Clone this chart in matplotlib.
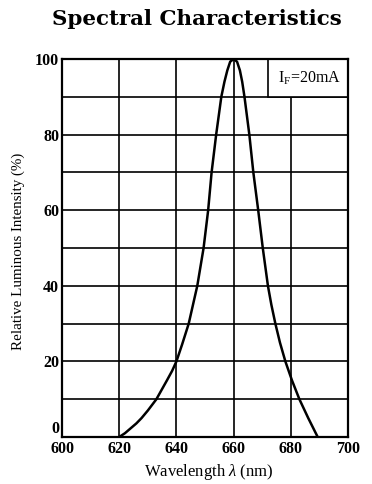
import matplotlib
matplotlib.use("Agg")
from matplotlib import pyplot as plt
from matplotlib.patches import Rectangle

# values
wavelength = [620, 622, 624, 626, 627.8, 630, 633, 636.7, 638.5, 640, 642, 644.3,
              645.8, 647.3, 649.5, 651.1, 652.3, 653.9, 655.7, 656.8, 657.8, 658.8,
              660, 661.2, 662.2, 663, 663.8, 665.5, 666.9, 668.6, 670.2, 672,
              673.2, 674.6, 676.2, 678.1, 680.4, 683, 686.1, 689.4]
intensity = [0, 1, 2.3, 3.6, 5, 7, 10, 15, 17.5, 20, 24.5, 30,
             35, 40, 50, 60, 70, 80, 90, 94, 97, 99.3,
             100, 99.3, 97, 94, 90, 80, 70, 60, 50, 40,
             35, 30, 25, 20, 15, 10, 5, 0]
x_ticks = [600, 620, 640, 660, 680, 700]
y_ticks = [0, 20, 40, 60, 80, 100]
y_minor = [10, 30, 50, 70, 90]

plt.rcParams["font.family"] = "Liberation Serif"
plt.rcParams["mathtext.fontset"] = "custom"
plt.rcParams["mathtext.rm"] = "Liberation Serif"
plt.rcParams["mathtext.it"] = "Liberation Serif:italic"

fig = plt.figure(figsize=(3.72, 4.84), dpi=100)
ax = fig.add_axes([0.1667, 0.0971, 0.7688, 0.7809])

for x in x_ticks[1:-1]:
    ax.axvline(x, color="k", lw=1.2, zorder=1)
for y in y_ticks[1:-1] + y_minor:
    ax.axhline(y, color="k", lw=1.2, zorder=1)

ax.plot(wavelength, intensity, color="k", lw=1.8, zorder=3, solid_joinstyle="round")

ax.add_patch(Rectangle((672, 90), 28, 10, facecolor="white", edgecolor="k",
                       lw=1.2, zorder=2))
ax.text(686.5, 95, r"I$_\mathrm{F}$=20mA", ha="center", va="center", fontsize=11.5,
        zorder=4)

ax.set_xlim(600, 700)
ax.set_ylim(0, 100)
ax.set_xticks(x_ticks)
ax.set_yticks(y_ticks)
ax.set_xticklabels([str(v) for v in x_ticks], fontweight="bold", fontsize=11.5)
ax.set_yticklabels([str(v) for v in y_ticks], fontweight="bold", fontsize=11.5)
ax.tick_params(axis="x", length=0, pad=3)
ax.tick_params(axis="y", length=0, pad=2)
ax.get_yticklabels()[0].set_verticalalignment("bottom")
for s in ax.spines.values():
    s.set_linewidth(1.6)

fig.text(0.5605, 0.025, r"Wavelength $\lambda$ (nm)", ha="center", va="center",
         fontsize=12)
fig.text(0.048, 0.48, "Relative Luminous Intensity (%)", ha="center", va="center",
         rotation=90, fontsize=10.8)

fig.text(0.528, 0.961, "Spectral Characteristics", ha="center", va="center",
         fontsize=15.4, fontweight="bold", family="DejaVu Serif")

plt.savefig("out.png", dpi=100)
